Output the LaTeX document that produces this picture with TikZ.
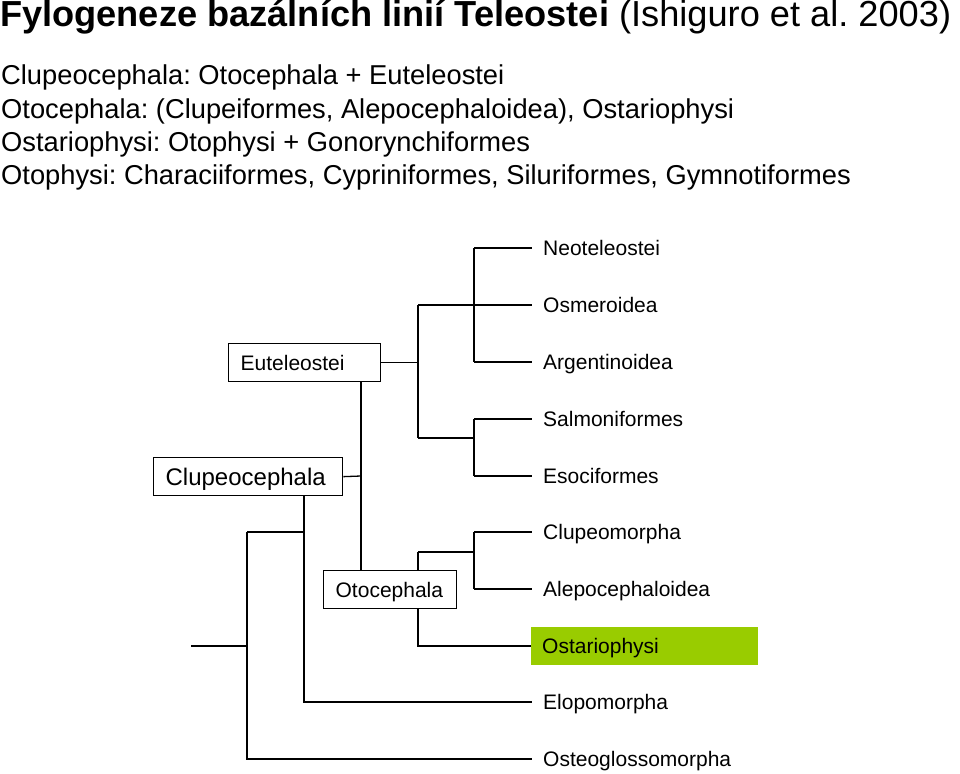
\documentclass[tikz,border=0pt]{standalone}
\usepackage{fontspec}
\setmainfont{Liberation Sans}
\definecolor{limegreen}{HTML}{99CC00}
\begin{document}
\frenchspacing
\begin{tikzpicture}[x=1pt,y=-1pt,
  branch/.style={line width=1.3pt},
  hdr/.style={anchor=base west, inner sep=0pt, font=\fontsize{27.3}{32}\selectfont},
  leaf/.style={anchor=west, inner xsep=11pt, inner ysep=0pt, text height=15pt, text depth=0pt, font=\fontsize{21}{25}\selectfont},
  clade/.style={draw, line width=1.3pt, fill=white, anchor=north west, inner xsep=12pt, inner ysep=0pt, minimum height=38pt, text depth=0pt}]
\useasboundingbox (0,0) rectangle (960,773);

% title and header
\node[anchor=base west, inner sep=0pt, font=\fontsize{36.2}{40}\selectfont] (title) at (0,27) {\textbf{Fylogeneze bazálních linií Teleostei} (Ishiguro et al. 2003)};
\node[hdr] (h1) at (1,85) {Clupeocephala: Otocephala + Euteleostei};
\node[hdr] (h2) at (1,118) {Otocephala: (Clupeiformes, Alepocephaloidea), Ostariophysi};
\node[hdr] (h3) at (1,151) {Ostariophysi: Otophysi + Gonorynchiformes};
\node[hdr] (h4) at (1,184) {Otophysi: Characiiformes, Cypriniformes, Siluriformes, Gymnotiformes};

% leaves
\node[leaf] (neo) at (532,248) {Neoteleostei};
\node[leaf] (osme) at (532,305) {Osmeroidea};
\node[leaf] (arg) at (532,362) {Argentinoidea};
\node[leaf] (salm) at (532,419) {Salmoniformes};
\node[leaf] (eso) at (532,476) {Esociformes};
\node[leaf] (clupeo) at (532,532) {Clupeomorpha};
\node[leaf] (alep) at (532,589) {Alepocephaloidea};
\node[leaf, fill=limegreen, minimum height=38pt] (ost) at (531,646) {\makebox[205pt][l]{Ostariophysi}};
\node[leaf] (elop) at (532,702) {Elopomorpha};
\node[leaf] (osteo) at (532,759) {Osteoglossomorpha};

% junction points
\coordinate (r) at (191,646);
\coordinate (a1) at (247,532); \coordinate (a2) at (247,759); \coordinate (am) at (247,646);
\coordinate (b1) at (304,532); \coordinate (b2) at (304,702);
\coordinate (k) at (361,476);
\coordinate (c1) at (418,305); \coordinate (c2) at (418,438);
\coordinate (d1) at (474,248); \coordinate (d2) at (474,362);
\coordinate (e1) at (474,419); \coordinate (e2) at (474,476); \coordinate (em) at (474,438);
\coordinate (f1) at (418,552); \coordinate (f2) at (418,646);
\coordinate (g1) at (474,532); \coordinate (g2) at (474,589); \coordinate (gm) at (474,552);

% clade boxes
\node[clade, text height=15pt, font=\fontsize{21}{25}\selectfont] (eut) at (228,343) {\makebox[128pt][l]{Euteleostei}};
\node[clade, text height=17.2pt, font=\fontsize{24}{28}\selectfont] (clup) at (153,457) {\makebox[165pt][l]{Clupeocephala}};
\node[clade, text height=15pt, font=\fontsize{21}{25}\selectfont] (oto) at (323,570) {\makebox[109pt][l]{Otocephala}};

% branches
\draw[branch] (r) -- (am);
\draw[branch] (a1) -- (a2) -- (osteo.west);
\draw[branch] (a1) -- (b1);
\draw[branch] (clup.south -| b1) -- (b2) -- (elop.west);
\draw[branch] (clup.east) -- (k);
\draw[branch] (eut.south -| k) -- (oto.north -| k);
\draw[branch] (eut.east) -- (eut.east -| c1);
\draw[branch] (c1) -- (c2);
\draw[branch] (c1) -- (osme.west);
\draw[branch] (d1) -- (d2);
\draw[branch] (d1) -- (neo.west);
\draw[branch] (d2) -- (arg.west);
\draw[branch] (c2) -- (em);
\draw[branch] (e1) -- (e2);
\draw[branch] (e1) -- (salm.west);
\draw[branch] (e2) -- (eso.west);
\draw[branch] (f1) -- (oto.north -| f1);
\draw[branch] (oto.south -| f1) -- (f2) -- (ost.west);
\draw[branch] (f1) -- (gm);
\draw[branch] (g1) -- (g2);
\draw[branch] (g1) -- (clupeo.west);
\draw[branch] (g2) -- (alep.west);
\end{tikzpicture}
\end{document}
